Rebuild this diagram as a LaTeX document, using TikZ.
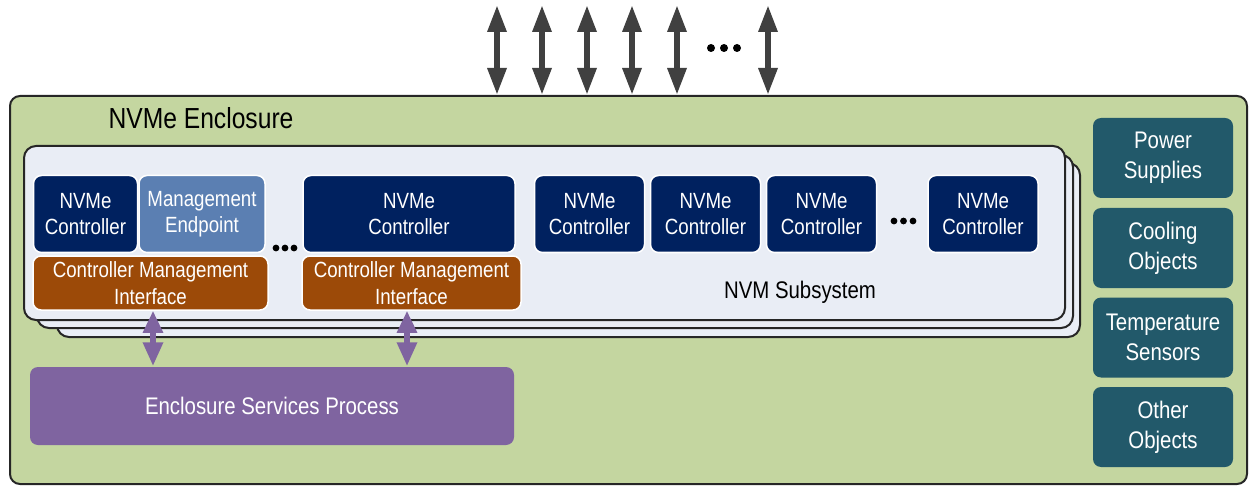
\documentclass[tikz,border=0pt]{standalone}
\usepackage{fontspec}
\setmainfont{Liberation Sans}[FakeStretch=0.85]
\usetikzlibrary{arrows.meta}
\definecolor{encgreen}{HTML}{C4D6A0}
\definecolor{subfill}{HTML}{E9EDF5}
\definecolor{navy}{HTML}{00215F}
\definecolor{mgmtblue}{HTML}{5B7FB2}
\definecolor{cmiorange}{HTML}{9C4A08}
\definecolor{objteal}{HTML}{22596A}
\definecolor{esppurple}{HTML}{7F64A0}
\definecolor{arrgray}{HTML}{404040}
\definecolor{edgedark}{HTML}{262626}
\tikzset{
  panel/.style={draw=edgedark, line width=2pt, fill=subfill, rounded corners=12pt},
  blk/.style={draw=white, line width=1.5pt, rounded corners=8pt, text=white, align=center,
    inner sep=0pt, font=\fontsize{22}{26}\selectfont},
  ctrl/.style={blk, fill=navy, minimum width=110pt, minimum height=77pt},
  cmi/.style={blk, fill=cmiorange, minimum height=54pt, font=\fontsize{22}{27}\selectfont},
  obj/.style={blk, fill=objteal, minimum width=140pt, minimum height=80pt, draw=none,
    font=\fontsize{24}{30}\selectfont},
  busarrow/.style={draw=arrgray, line width=6pt,
    {Triangle[width=18pt,length=27pt]}-{Triangle[width=18pt,length=27pt]}},
  mgarrow/.style={draw=esppurple, line width=6pt,
    {Triangle[width=19pt,length=22pt]}-{Triangle[width=19pt,length=24pt]}},
  dotmark/.style={fill=black, draw=none}
}
\begin{document}
\begin{tikzpicture}[x=1pt,y=-1pt]
\useasboundingbox (0,0) rectangle (1249,486);
% enclosure
\node[draw=edgedark, line width=2pt, fill=encgreen, rounded corners=10pt,
  minimum width=1237pt, minimum height=388pt, inner sep=0pt] (encl) at (628.5,290) {};
\node[anchor=west, font=\fontsize{29}{34}\selectfont] (encltitle) at (105,118) {NVMe Enclosure};
% top bus arrows
\foreach \i/\x in {1/497,2/542,3/587,4/632,5/677,6/768} {
  \coordinate (t\i) at (\x,5);
  \draw[busarrow] (t\i) -- (t\i |- encl.north);
}
\foreach \x in {711,724,737} \fill[dotmark] (\x,48) circle (4pt);
% subsystem stack
\draw[panel] (57,163) rectangle (1080,337);
\draw[panel] (37,155) rectangle (1073,328);
\node[panel, minimum width=1041pt, minimum height=174pt, inner sep=0pt] (sub) at (544.5,233) {};
\node[font=\fontsize{24}{28}\selectfont] (sublabel) at (800,292) {NVM Subsystem};
% controllers
\node[ctrl, minimum width=104pt] (c1) at (85.5,214) {NVMe\\Controller};
\node[blk, fill=mgmtblue, minimum width=126pt, minimum height=77pt] (me) at (202,214) {Management\\Endpoint};
\node[cmi, minimum width=235pt] (o1) at (150.5,283) {Controller Management\\Interface};
\foreach \x in {276,285,294} \fill[dotmark] (\x,248) circle (3.4pt);
\node[ctrl, minimum width=212pt] (c2) at (409,214) {NVMe\\Controller};
\node[cmi, minimum width=219pt] (o2) at (411.5,283) {Controller Management\\Interface};
\node[ctrl] (c3) at (589.5,214) {NVMe\\Controller};
\node[ctrl] (c4) at (705.5,214) {NVMe\\Controller};
\node[ctrl] (c5) at (821.5,214) {NVMe\\Controller};
\foreach \x in {894,903.5,913} \fill[dotmark] (\x,221) circle (3.4pt);
\node[ctrl] (c6) at (983,214) {NVMe\\Controller};
% enclosure services process
\node[blk, draw=none, fill=esppurple, minimum width=484pt, minimum height=78pt,
  font=\fontsize{24}{28}\selectfont] (esp) at (272,406) {Enclosure Services Process};
\draw[mgarrow] ([xshift=2.5pt]o1.south) -- ([xshift=2.5pt]o1.south |- esp.north);
\draw[mgarrow] ([xshift=-4.5pt]o2.south) -- ([xshift=-4.5pt]o2.south |- esp.north);
% enclosure objects
\node[obj] (ps) at (1163,158) {Power\\Supplies};
\node[obj] (co) at (1163,248) {Cooling\\Objects};
\node[obj] (ts) at (1163,337.5) {Temperature\\Sensors};
\node[obj] (oo) at (1163,427) {Other\\Objects};
\end{tikzpicture}
\end{document}
